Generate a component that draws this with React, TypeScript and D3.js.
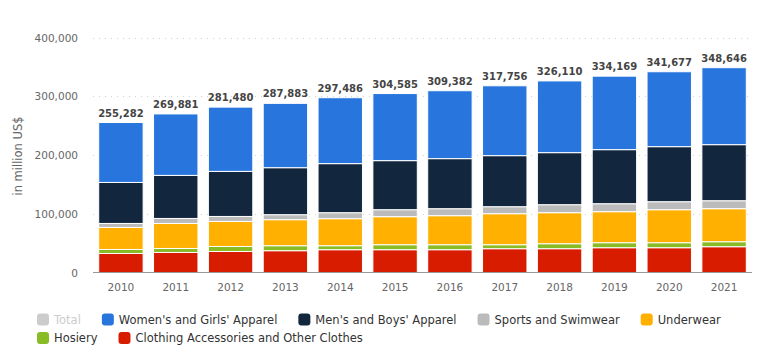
import React from "react";
import * as d3 from "d3";

const years = ["2010","2011","2012","2013","2014","2015","2016","2017","2018","2019","2020","2021"];
const totals = [255282,269881,281480,287883,297486,304585,309382,317756,326110,334169,341677,348646];
const clothingAccessories = [32400,34100,35800,37100,38800,38800,38800,40500,40500,42200,42200,43900];
const hosiery = [6800,6800,8500,8500,6800,8500,8500,6800,8500,8500,8500,8500];
const underwear = [37500,42600,42600,44300,46000,47700,49400,52800,52800,52800,56200,56200];
const sportsSwimwear = [6800,8500,8500,8500,10200,11900,11900,11900,13600,13600,13600,13600];
const mensBoys = [69800,73300,76700,80000,83500,83500,85200,86900,88600,92000,93700,95400];
const womensGirls = [102000,104600,109400,109500,112200,114200,115600,118900,122100,125100,127500,131000];
const yTicks = [0,100000,200000,300000,400000];

const seriesNames = ["Clothing Accessories and Other Clothes","Hosiery","Underwear","Sports and Swimwear","Men's and Boys' Apparel","Women's and Girls' Apparel"];
const seriesColors = ["#d71c00","#88bb24","#ffb000","#bbbbbb","#12263d","#2876dd"];
const legendNames = ["Total","Women's and Girls' Apparel","Men's and Boys' Apparel","Sports and Swimwear","Underwear","Hosiery","Clothing Accessories and Other Clothes"];
const legendColors = ["#cccccc","#2876dd","#12263d","#bbbbbb","#ffb000","#88bb24","#d71c00"];

const W = 760, H = 357;
const FONT = "'DejaVu Sans', Verdana, sans-serif";
const LEGEND_SIZE = 11.5;

function measure(text: string, font: string): number {
  if (typeof document === "undefined") return text.length * 6.2;
  const c = document.createElement("canvas").getContext("2d");
  if (!c) return text.length * 6.2;
  c.font = font;
  return c.measureText(text).width;
}

export default function App() {
  const x = d3.scaleBand().domain(years).range([93.5, 751.5]).paddingInner(0.19).paddingOuter(0.095);
  const y = d3.scaleLinear().domain([0, 400000]).range([272.5, 37.5]);
  const seriesData = [clothingAccessories, hosiery, underwear, sportsSwimwear, mensBoys, womensGirls];
  const table = years.map((yr, i) => {
    const row: any = { year: yr };
    seriesNames.forEach((n, s) => (row[n] = seriesData[s][i]));
    return row;
  });
  const stacked = d3.stack().keys(seriesNames)(table as any);
  const fmt = d3.format(",");

  const legendItems: { name: string; color: string; x: number; y: number }[] = [];
  let lx = 37, ly = 319.5;
  legendNames.forEach((n, i) => {
    const tw = measure(n, `${LEGEND_SIZE}px ${FONT}`);
    const itemW = 17 + tw;
    if (lx + itemW > W - 20 || i === 5) {
      lx = 37;
      ly += 18.5;
    }
    legendItems.push({ name: n, color: legendColors[i], x: lx, y: ly });
    lx += itemW + 21;
  });

  return (
    <svg width={W} height={H} style={{ display: "block", position: "absolute", left: 0, top: 0, fontFamily: FONT }}>
      <rect width={W} height={H} fill="#fff" />
      {yTicks.slice(1).map((t) => (
        <line key={t} x1={93} x2={752} y1={Math.round(y(t)) + 0.5} y2={Math.round(y(t)) + 0.5} stroke="#cfcfcf" strokeDasharray="1,5" />
      ))}
      {yTicks.map((t) => (
        <text key={t} x={78} y={y(t) + 4} textAnchor="end" fontSize={10.5} fill="#666">{fmt(t)}</text>
      ))}
      <text transform={`translate(22,${156}) rotate(-90)`} textAnchor="middle" fontSize={11.5} fill="#666">in million US$</text>
      {stacked.map((layer, s) => (
        <g key={s} fill={seriesColors[s]}>
          {layer.map((d, i) => (
            <rect key={i} x={x(years[i])!} width={x.bandwidth()} y={y(d[1])} height={y(d[0]) - y(d[1])} stroke="#fff" strokeWidth={1} />
          ))}
        </g>
      ))}
      <line x1={93} x2={752} y1={272.5} y2={272.5} stroke="#999" strokeWidth={1} />
      {years.map((yr) => (
        <text key={yr} x={x(yr)! + x.bandwidth() / 2} y={291} textAnchor="middle" fontSize={10.5} fill="#666">{yr}</text>
      ))}
      {totals.map((t, i) => (
        <text key={i} x={x(years[i])! + x.bandwidth() / 2} y={y(t) - 6} textAnchor="middle" fontSize={10} fontWeight="bold" fill="#444">{fmt(t)}</text>
      ))}
      {legendItems.map((it, i) => (
        <g key={i}>
          <rect x={it.x} y={it.y - 6} width={12} height={12} rx={3} fill={it.color} />
          <text x={it.x + 17} y={it.y + 4} fontSize={LEGEND_SIZE} fill={i === 0 ? "#cccccc" : "#333"}>{it.name}</text>
        </g>
      ))}
    </svg>
  );
}
